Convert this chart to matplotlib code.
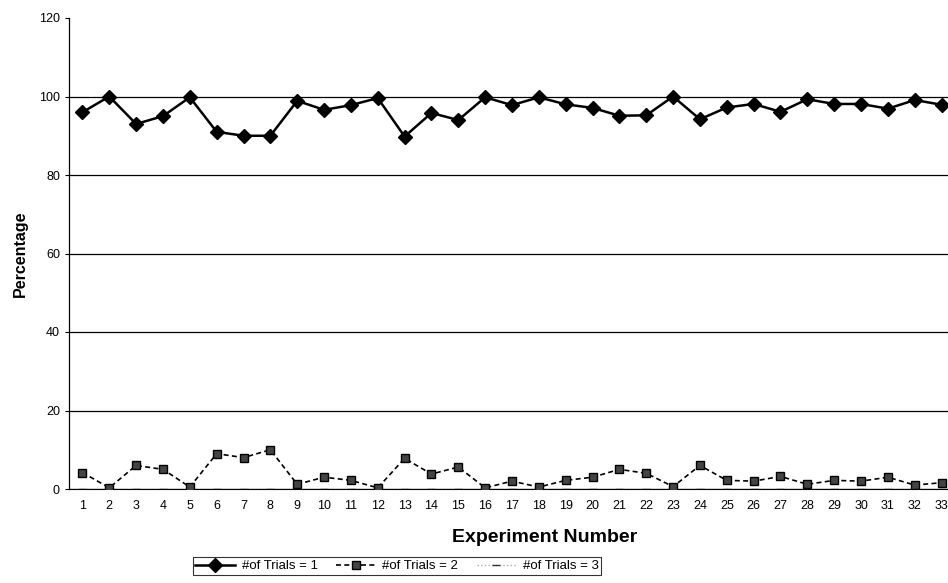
import numpy as np
import matplotlib
matplotlib.use("Agg")
import matplotlib.pyplot as plt

# Values (percentages per experiment)
experiments = list(range(1, 34))
trials_1 = [96, 100, 93, 95, 99.8, 91, 90, 90, 98.9, 96.6, 97.8, 99.6, 89.8, 95.8, 94,
            99.8, 97.8, 99.8, 98, 97.1, 95.1, 95.2, 100, 94.2, 97.2, 98.1, 96.1, 99.3,
            98.1, 98.1, 96.9, 99.1, 97.9]
trials_2 = [4.2, 0.3, 6, 5, 0.5, 9, 8, 10, 1.2, 3, 2.2, 0.3, 7.8, 3.8, 5.6,
            0.3, 2, 0.5, 2.2, 3, 5, 4, 0.6, 6, 2.2, 2, 3.2, 1.2,
            2.2, 2, 3, 1, 1.6]
trials_3 = [0] * 33

y_ticks = [0, 20, 40, 60, 80, 100, 120]
labels = ["#of Trials = 1", "#of Trials = 2", "#of Trials = 3"]

plt.rcParams['font.family'] = ['Liberation Sans', 'DejaVu Sans']

fig = plt.figure(figsize=(9.48, 5.83), dpi=100)
ax = fig.add_axes([69 / 948, 94 / 583, 886 / 948, 471 / 583])

l1, = ax.plot(experiments, trials_1, color="black", lw=1.8, marker="D",
              markersize=7, label=labels[0], zorder=4)
l2, = ax.plot(experiments, trials_2, color="black", lw=1.2, ls=(0, (3, 2)),
              marker="s", markersize=6, mfc="#444444", mec="black",
              label=labels[1], zorder=3)
l3, = ax.plot(experiments, trials_3, color="#aaaaaa", lw=1.0, ls=":",
              marker="_", markersize=6, mec="#333333", label=labels[2], zorder=2)

ax.set_xlim(0.5, 33.5)
ax.set_ylim(0, 120)
ax.set_yticks(y_ticks)
ax.set_xticks(experiments)
ax.tick_params(axis="x", length=0, pad=8, labelsize=9)
ax.tick_params(axis="y", length=3, direction="out", labelsize=9)

ax.grid(axis="y", color="black", lw=0.9)
ax.get_ygridlines()[-1].set_visible(False)
ax.set_axisbelow(True)
for side in ["top", "right"]:
    ax.spines[side].set_visible(False)
ax.spines["left"].set_linestyle((0, (4, 1)))
ax.spines["left"].set_linewidth(0.9)

ax.set_ylabel("Percentage", fontsize=11.5, fontweight="bold", labelpad=8)
fig.text(545 / 948, 1 - 538 / 583, "Experiment Number", ha="center", va="center",
         fontsize=14, fontweight="bold")

leg = fig.legend(handles=[l1, l2, l3], loc="center", ncol=3,
                 bbox_to_anchor=(397 / 948, 1 - 566 / 583), fontsize=9.5,
                 frameon=True, fancybox=False, edgecolor="black",
                 handlelength=3.0, handletextpad=0.5, columnspacing=1.4,
                 borderpad=0.2)
leg.get_frame().set_linewidth(0.8)

fig.savefig("out.png", dpi=100)
